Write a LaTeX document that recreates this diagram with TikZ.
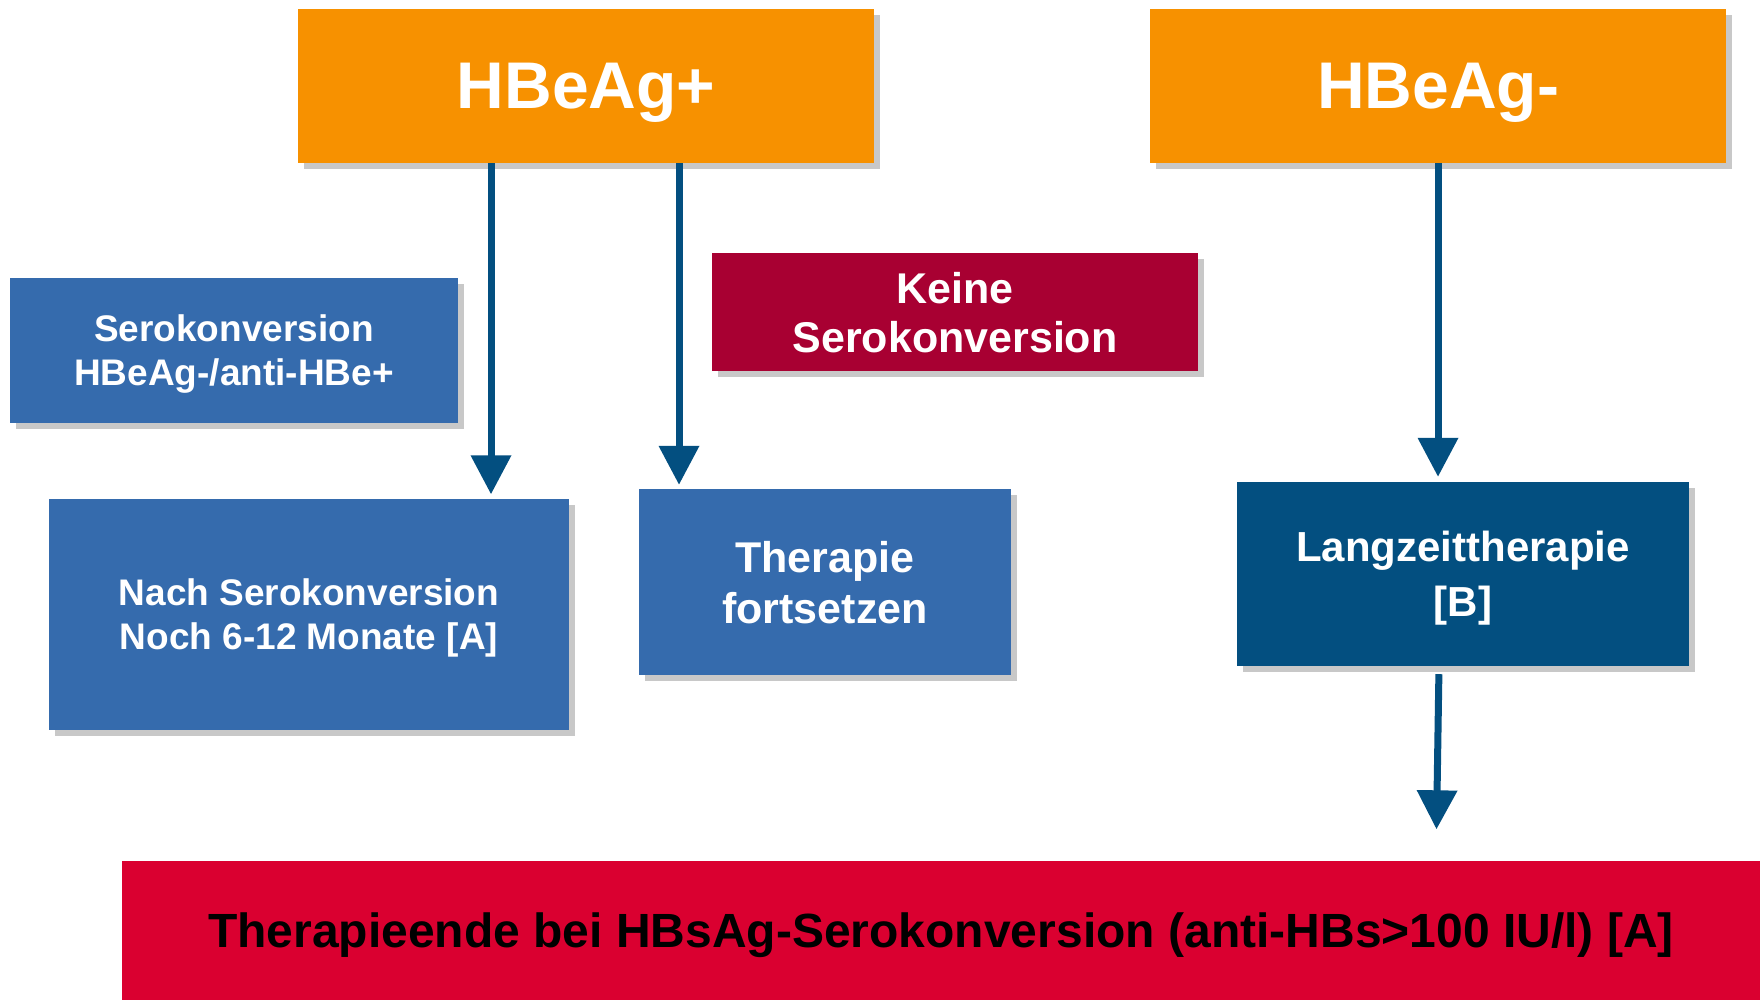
\documentclass[tikz,border=0pt]{standalone}
\usepackage{fontspec}
\setmainfont{Liberation Sans}
\usepackage{xcolor}
\usetikzlibrary{
    arrows.meta,
    shapes,
    shadows,
    calc
}
\definecolor{hbOrange}{HTML}{F79100}
\definecolor{hbBlue}{HTML}{356BAD}
\definecolor{hbDarkBlue}{HTML}{034F80}
\definecolor{hbWine}{HTML}{A80032}
\definecolor{hbRed}{HTML}{DA0030}
\definecolor{hbShadow}{HTML}{C8C8C8}
\tikzset{%
    >={Triangle[width=39pt,length=39pt]},
    % Specifications for style of nodes:
    plain/.style = {},
    base/.style = {
        plain,
        rectangle, draw=none,
        text centered, text=white,
        inner sep=0pt, align=center, text depth=0pt,
        drop shadow={shadow xshift=6pt, shadow yshift=-6pt,
                     fill=hbShadow, opacity=1}
    },
    title/.style = {base, fill=hbOrange, minimum width=576pt, minimum height=154pt,
        font=\bfseries\fontsize{66}{70}\selectfont},
    info/.style = {base, fill=hbBlue},
    warn/.style = {base, fill=hbWine},
    longterm/.style = {base, fill=hbDarkBlue},
    stop/.style = {plain, rectangle, fill=hbRed, text=black,
        inner sep=0pt, align=center, text depth=0pt},
    flow/.style = {->, line width=7pt, draw=hbDarkBlue}
}

\begin{document}
\begin{tikzpicture}[x=1pt, y=-1pt]
    \useasboundingbox (0,0) rectangle (1760,999);
    % top row
    \node[title] (hbp) at (586,86) {HBeAg+};
    \node[title] (hbn) at (1438,86) {HBeAg-};
    % middle row
    \node[info, minimum width=448pt, minimum height=145pt,
          font=\bfseries\fontsize{37}{44}\selectfont] (sero) at (234,350)
          {Serokonversion\\HBeAg-/anti-HBe+};
    \node[warn, minimum width=486pt, minimum height=118pt,
          font=\bfseries\fontsize{43}{49}\selectfont] (keine) at (955,312)
          {Keine\\Serokonversion};
    % result boxes
    \node[info, minimum width=520pt, minimum height=231pt,
          font=\bfseries\fontsize{37}{44}\selectfont] (nach) at (309,614)
          {Nach Serokonversion\\Noch 6-12 Monate [A]};
    \node[info, minimum width=372pt, minimum height=186pt,
          font=\bfseries\fontsize{43}{51}\selectfont] (ther) at (825,582)
          {Therapie\\fortsetzen};
    \node[longterm, minimum width=452pt, minimum height=184pt, text depth=-14pt,
          font=\bfseries\fontsize{42}{55}\selectfont] (lang) at (1463,574)
          {Langzeittherapie\\{}[B]};
    % end of therapy
    \node[stop, minimum width=1638pt, minimum height=139pt,
          font=\bfseries\fontsize{48}{52}\selectfont] (endbox) at (941,930)
          {Therapieende bei HBsAg-Serokonversion (anti-HBs>100 IU/l) [A]};
    % arrows
    \draw[flow, shorten >=4pt] ([xshift=-95pt]hbp.south) -- ([xshift=182pt]nach.north);
    \draw[flow, shorten >=4pt] ([xshift=93pt]hbp.south) -- ([xshift=-146pt]ther.north);
    \draw[flow, shorten >=5pt] (hbn.south) -- ([xshift=-25pt]lang.north);
    \draw[flow, shorten <=8pt, shorten >=31pt] ([xshift=-24pt]lang.south) -- ([xshift=495pt]endbox.north);
\end{tikzpicture}
\end{document}
